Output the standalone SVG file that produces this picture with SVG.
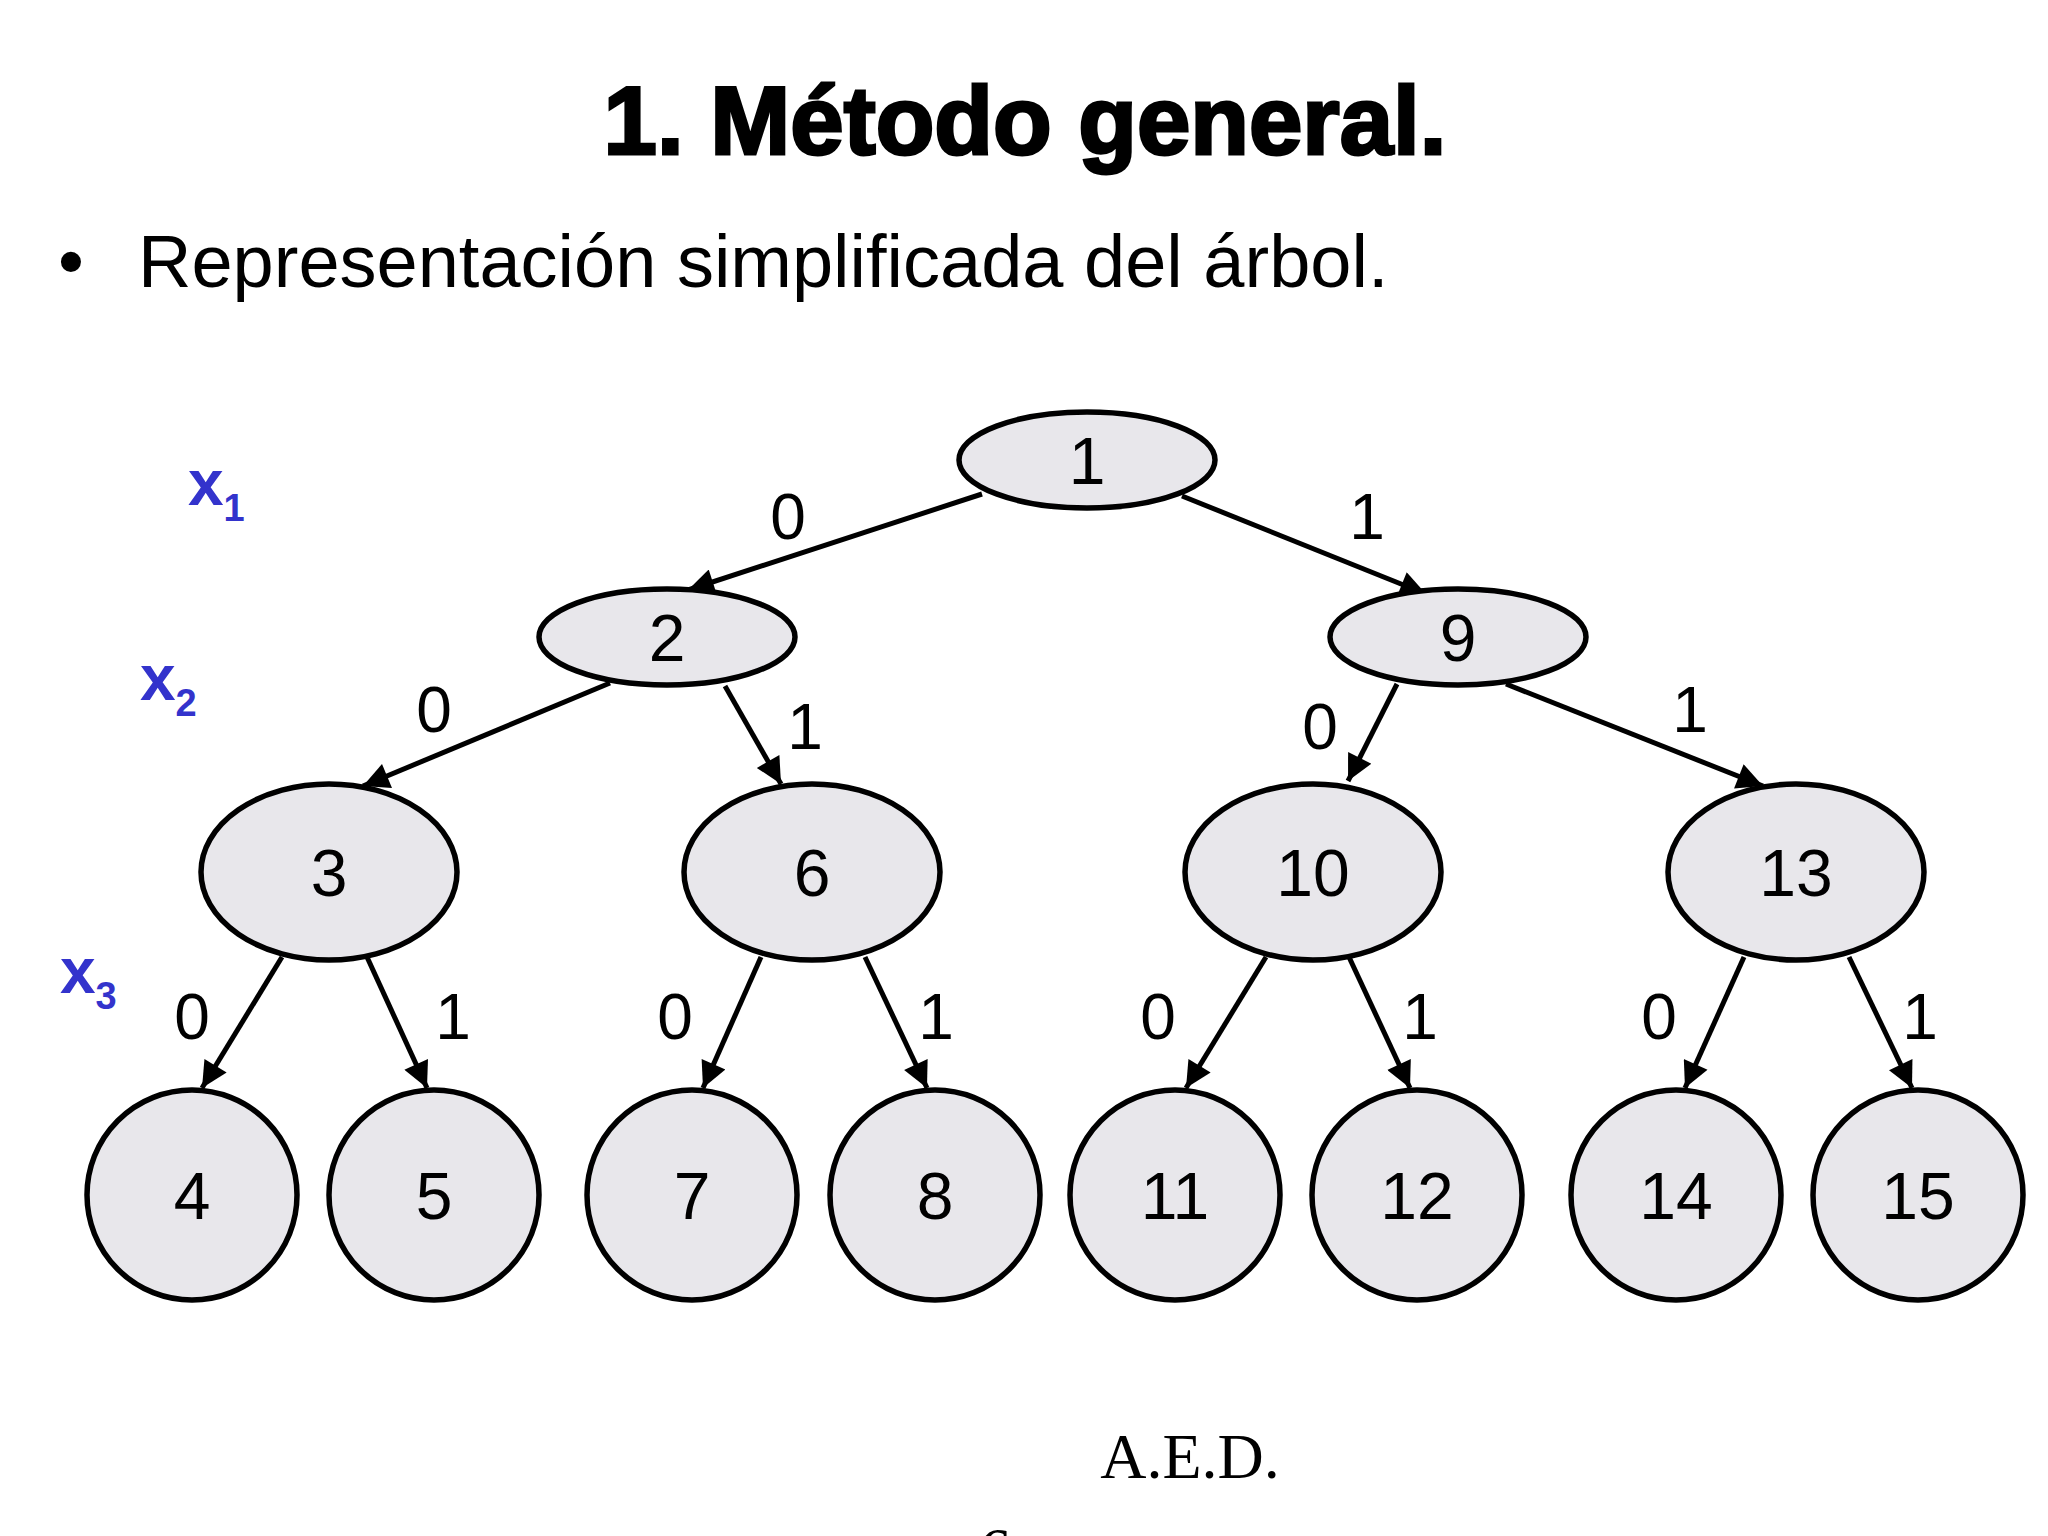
<svg xmlns="http://www.w3.org/2000/svg" width="2048" height="1536" viewBox="0 0 2048 1536">
<style>
.n{fill:#e8e7eb;stroke:#000;stroke-width:5.5}
.t{font-family:"Liberation Sans",Arial,sans-serif;font-size:66px;text-anchor:middle;fill:#000}
.l{font-family:"Liberation Sans",Arial,sans-serif;font-size:64px;text-anchor:middle;fill:#000}
.x{font-family:"Liberation Sans",Arial,sans-serif;font-weight:bold;fill:#3333cc;font-size:64px}
.e{stroke:#000;stroke-width:5;fill:none;marker-end:url(#a)}
</style>
<defs><marker id="a" viewBox="0 0 10 10" refX="10" refY="5" markerWidth="30" markerHeight="26" markerUnits="userSpaceOnUse" orient="auto"><path d="M0,0L10,5L0,10z" fill="#000"/></marker></defs>
<rect width="2048" height="1536" fill="#fff"/>
<text x="1025" y="154" font-family="Liberation Sans,Arial,sans-serif" font-weight="900" font-size="96" text-anchor="middle" stroke="#000" stroke-width="3">1. Método general.</text>
<text x="58" y="287" font-family="Liberation Sans,Arial,sans-serif" font-size="74">•</text>
<text x="138" y="287" font-family="Liberation Sans,Arial,sans-serif" font-size="74">Representación simplificada del árbol.</text>
<text class="x" x="188" y="505">x<tspan font-size="38" dy="16">1</tspan></text>
<text class="x" x="140" y="700">x<tspan font-size="38" dy="16">2</tspan></text>
<text class="x" x="60" y="993">x<tspan font-size="38" dy="16">3</tspan></text>
<g id="edges">
<path class="e" d="M982,494L688,590"/>
<path class="e" d="M1182,496L1426,594"/>
<path class="e" d="M610,683L363,786"/>
<path class="e" d="M725,686L781,784"/>
<path class="e" d="M1397,684L1348,781"/>
<path class="e" d="M1506,684L1763,786"/>
<path class="e" d="M282,957L202,1088"/>
<path class="e" d="M367,957L427,1088"/>
<path class="e" d="M761,957L703,1088"/>
<path class="e" d="M865,957L927,1088"/>
<path class="e" d="M1266,957L1186,1088"/>
<path class="e" d="M1349,957L1410,1088"/>
<path class="e" d="M1744,957L1685,1088"/>
<path class="e" d="M1849,957L1912,1088"/>
<text class="l" x="788" y="539">0</text><text class="l" x="1367" y="539">1</text>
<text class="l" x="434" y="732">0</text><text class="l" x="805" y="749">1</text>
<text class="l" x="1320" y="749">0</text><text class="l" x="1690" y="732">1</text>
<text class="l" x="192" y="1039">0</text><text class="l" x="453" y="1039">1</text>
<text class="l" x="675" y="1039">0</text><text class="l" x="936" y="1039">1</text>
<text class="l" x="1158" y="1039">0</text><text class="l" x="1420" y="1039">1</text>
<text class="l" x="1659" y="1039">0</text><text class="l" x="1920" y="1039">1</text>
</g>
<g id="n1"><ellipse class="n" cx="1087" cy="460" rx="128" ry="48"/><text class="t" x="1087" y="484">1</text></g>
<g id="n2"><ellipse class="n" cx="667" cy="637" rx="128" ry="48"/><text class="t" x="667" y="661">2</text></g>
<g id="n9"><ellipse class="n" cx="1458" cy="637" rx="128" ry="48"/><text class="t" x="1458" y="661">9</text></g>
<g id="n3"><ellipse class="n" cx="329" cy="872" rx="128" ry="88"/><text class="t" x="329" y="896">3</text></g>
<g id="n6"><ellipse class="n" cx="812" cy="872" rx="128" ry="88"/><text class="t" x="812" y="896">6</text></g>
<g id="n10"><ellipse class="n" cx="1313" cy="872" rx="128" ry="88"/><text class="t" x="1313" y="896">10</text></g>
<g id="n13"><ellipse class="n" cx="1796" cy="872" rx="128" ry="88"/><text class="t" x="1796" y="896">13</text></g>
<g id="n4"><circle class="n" cx="192" cy="1195" r="105"/><text class="t" x="192" y="1219">4</text></g>
<g id="n5"><circle class="n" cx="434" cy="1195" r="105"/><text class="t" x="434" y="1219">5</text></g>
<g id="n7"><circle class="n" cx="692" cy="1195" r="105"/><text class="t" x="692" y="1219">7</text></g>
<g id="n8"><circle class="n" cx="935" cy="1195" r="105"/><text class="t" x="935" y="1219">8</text></g>
<g id="n11"><circle class="n" cx="1175" cy="1195" r="105"/><text class="t" x="1175" y="1219">11</text></g>
<g id="n12"><circle class="n" cx="1417" cy="1195" r="105"/><text class="t" x="1417" y="1219">12</text></g>
<g id="n14"><circle class="n" cx="1676" cy="1195" r="105"/><text class="t" x="1676" y="1219">14</text></g>
<g id="n15"><circle class="n" cx="1918" cy="1195" r="105"/><text class="t" x="1918" y="1219">15</text></g>
<text x="1190" y="1478" font-family="Liberation Serif,Times New Roman,serif" font-size="64" text-anchor="middle">A.E.D.</text>
<text x="995" y="1572" font-family="Liberation Serif,Times New Roman,serif" font-size="64" text-anchor="middle">6</text>
</svg>
